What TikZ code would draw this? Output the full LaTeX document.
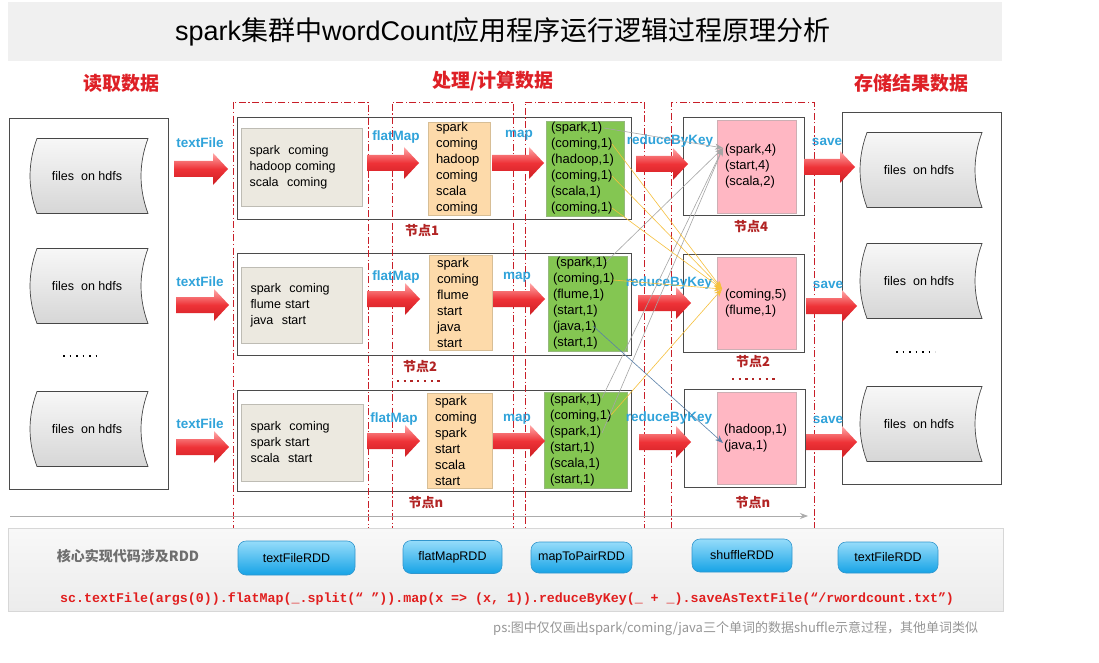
\documentclass[tikz,border=0pt]{standalone}
\usepackage{fontspec}
\setmainfont{Liberation Sans}
\newfontfamily\cjk{Noto Sans CJK SC}
\newfontfamily\codefont{Liberation Mono}
\usetikzlibrary{arrows.meta}
\definecolor{titlegray}{RGB}{240,240,240}
\definecolor{headred}{RGB}{222,32,38}
\definecolor{nodered}{RGB}{178,36,36}
\definecolor{lblue}{RGB}{48,163,218}
\definecolor{boxline}{RGB}{75,75,75}
\definecolor{beige}{RGB}{236,233,224}
\definecolor{beigeline}{RGB}{190,188,180}
\definecolor{peach}{RGB}{253,218,170}
\definecolor{peachline}{RGB}{215,190,150}
\definecolor{leaf}{RGB}{132,198,82}
\definecolor{leafline}{RGB}{150,185,125}
\definecolor{pinkbox}{RGB}{255,183,195}
\definecolor{pinkline}{RGB}{205,175,180}
\definecolor{regred}{RGB}{200,30,40}
\definecolor{arrtop}{RGB}{255,170,170}
\definecolor{arrmid}{RGB}{238,50,55}
\definecolor{arrbot}{RGB}{205,30,35}
\definecolor{shgray}{RGB}{165,165,165}
\definecolor{shyellow}{RGB}{246,192,60}
\definecolor{shblue}{RGB}{90,128,168}
\definecolor{btntop}{RGB}{150,220,250}
\definecolor{btnbot}{RGB}{22,163,230}
\definecolor{btnline}{RGB}{50,150,205}
\definecolor{paneltop}{RGB}{248,248,248}
\definecolor{panelbot}{RGB}{236,236,236}
\definecolor{panelline}{RGB}{215,215,215}
\definecolor{codered}{RGB}{225,30,30}
\definecolor{psgray}{RGB}{150,150,150}
\definecolor{coregray}{RGB}{110,110,110}
\newcommand\hdfs[4]{%
  \path[hdfsshape] ({#2-#4/2+7},{#3-37.5}) -- ({#2+#4/2},{#3-37.5})
    .. controls ({#2+#4/2-9.3},{#3-12.5}) and ({#2+#4/2-9.3},{#3+12.5}) .. ({#2+#4/2},{#3+37.5})
    -- ({#2-#4/2+7},{#3+37.5})
    .. controls ({#2-#4/2-2.3},{#3+12.5}) and ({#2-#4/2-2.3},{#3-12.5}) .. ({#2-#4/2+7},{#3-37.5}) -- cycle;
  \node[hdfstext] (#1) at ({#2-2},#3) {files~~on hdfs};}
\newcommand\redarr[3]{%
  \path[redarrow] (#1,{#3-8}) -- ({#2-15},{#3-8}) -- ({#2-15},{#3-16}) -- (#2,#3)
    -- ({#2-15},{#3+16}) -- ({#2-15},{#3+8}) -- (#1,{#3+8}) -- cycle;}
\begin{document}
\begin{tikzpicture}[x=1pt,y=-1pt,
  every node/.style={inner sep=0pt},
  titlebar/.style={fill=titlegray},
  heading/.style={font=\cjk\bfseries\fontsize{19}{22}\selectfont, text=headred},
  bigbox/.style={draw=boxline, line width=0.8pt, fill=white},
  rowbox/.style={draw=boxline, line width=0.8pt, fill=white},
  region/.style={draw=regred, line width=0.9pt, dash pattern=on 7pt off 2.5pt on 1.2pt off 2.5pt},
  hdfsshape/.style={top color=gray!6, bottom color=gray!32, draw=gray!55!black, line width=0.7pt},
  hdfstext/.style={font=\fontsize{12.5}{15}\selectfont},
  redarrow/.style={top color=arrtop, bottom color=arrbot, middle color=arrmid},
  blab/.style={font=\bfseries\fontsize{13.5}{16}\selectfont, text=lblue},
  txt/.style={font=\fontsize{13}{16}\selectfont, align=left},
  beigebox/.style={txt, fill=beige, draw=beigeline, line width=0.6pt, font=\fontsize{12.5}{16}\selectfont},
  peachbox/.style={txt, fill=peach, draw=peachline, line width=0.6pt},
  leafbox/.style={txt, fill=leaf, draw=leafline, line width=0.6pt},
  pinkbox/.style={txt, fill=pinkbox, draw=pinkline, line width=0.6pt},
  nodelab/.style={font=\cjk\bfseries\fontsize{13}{15}\selectfont, text=nodered},
  reddots/.style={draw=nodered, line width=2pt, dash pattern=on 2.3pt off 4.4pt},
  blackdots/.style={draw=black, line width=1.5pt, dash pattern=on 1.5pt off 5pt},
  shufg/.style={draw=shgray, line width=0.6pt, -{Stealth[length=8pt,width=6pt]}},
  shufy/.style={draw=shyellow, line width=0.6pt, -{Stealth[length=8pt,width=6pt]}},
  shufb/.style={draw=shblue, line width=0.6pt, -{Stealth[length=8pt,width=6pt]}},
  timeline/.style={draw=gray!65, line width=0.8pt, -{Stealth[length=8pt,width=6pt]}},
  panel/.style={top color=paneltop, bottom color=panelbot, draw=panelline, line width=0.6pt},
  btn/.style={rounded corners=8pt, top color=btntop, bottom color=btnbot, draw=btnline, line width=0.6pt, font=\fontsize{12.5}{15}\selectfont},
]
\useasboundingbox (0,0) rectangle (1099,663);
\fill[white] (0,0) rectangle (1099,663);

% title
\node[titlebar, minimum width=994pt, minimum height=59pt] (tbar) at (505,31.5) {};
\node[font=\fontsize{27}{30}\selectfont] (title) at (503,32) {spark{\cjk 集群中}wordCount{\cjk 应用程序运行逻辑过程原理分析}};

% headings
\node[heading] (h1) at (121,83) {读取数据};
\node[heading] (h2) at (493,81) {处理/计算数据};
\node[heading] (h3) at (911,83) {存储结果数据};

% left and right big boxes
\node[bigbox, minimum width=159pt, minimum height=371pt] (leftbox) at (88.5,303.5) {};
\node[bigbox, minimum width=159pt, minimum height=372pt] (rightbox) at (921.5,298) {};
\hdfs{inA}{89}{176}{118}
\hdfs{inB}{89}{286}{118}
\hdfs{inC}{89}{429}{118}
\hdfs{outA}{921}{170}{122}
\hdfs{outB}{921}{281}{122}
\hdfs{outC}{921}{424}{122}
\draw[blackdots] (63,356) coordinate (ldA) -- (102,356) coordinate (ldB);
\draw[blackdots] (896,352) coordinate (rdA) -- (935,352) coordinate (rdB);

% row boxes
\node[rowbox, minimum width=394pt, minimum height=102pt] (row1) at (434,168) {};
\node[rowbox, minimum width=394pt, minimum height=102pt] (row2) at (434,304) {};
\node[rowbox, minimum width=394pt, minimum height=101pt] (row3) at (434,440.5) {};
\node[rowbox, minimum width=121pt, minimum height=98pt] (red1) at (743.5,166) {};
\node[rowbox, minimum width=121pt, minimum height=98pt] (red2) at (743.5,303) {};
\node[rowbox, minimum width=121pt, minimum height=98pt] (red3) at (744.5,438) {};

% regions
\node[region, minimum width=135pt, minimum height=482pt] (regA) at (300.5,343) {};
\node[region, minimum width=121pt, minimum height=482pt] (regB) at (452.5,343) {};
\node[region, minimum width=119pt, minimum height=482pt] (regC) at (584.5,343) {};
\node[region, minimum width=143pt, minimum height=482pt] (regD) at (742.5,343) {};

% beige boxes
\node[beigebox, minimum width=121pt, minimum height=78pt, text width=104pt] (b1) at (301.5,167) {spark~~coming\\hadoop coming\\scala~~coming};
\node[beigebox, minimum width=121pt, minimum height=76pt, text width=102pt] (b2) at (301.5,305) {spark~~coming\\flume start\\java~~start};
\node[beigebox, minimum width=122pt, minimum height=77pt, text width=103pt] (b3) at (302,442.5) {spark~~coming\\spark start\\scala~~start};

% peach boxes
\node[peachbox, minimum width=62pt, minimum height=93pt, text width=46pt] (f1) at (459,168.5) {spark\\coming\\hadoop\\coming\\scala\\coming};
\node[peachbox, minimum width=63pt, minimum height=95pt, text width=47pt] (f2) at (460.5,302.5) {spark\\coming\\flume\\start\\java\\start};
\node[peachbox, minimum width=65pt, minimum height=95pt, text width=49pt] (f3) at (459.5,440.5) {spark\\coming\\spark\\start\\scala\\start};

% green boxes
\node[leafbox, minimum width=78pt, minimum height=95pt, text width=68pt] (m1) at (585,168.5) {(spark,1)\\(coming,1)\\(hadoop,1)\\(coming,1)\\(scala,1)\\(coming,1)};
\node[leafbox, minimum width=79pt, minimum height=95pt, text width=69pt] (m2) at (587.5,303.5) {\hspace*{3pt}(spark,1)\\(coming,1)\\(flume,1)\\(start,1)\\(java,1)\\(start,1)};
\node[leafbox, minimum width=83pt, minimum height=96pt, text width=71pt] (m3) at (585.5,440) {(spark,1)\\(coming,1)\\(spark,1)\\(start,1)\\(scala,1)\\(start,1)};

% pink boxes
\node[pinkbox, minimum width=79pt, minimum height=93pt, text width=63pt] (p1) at (756.5,166.5) {(spark,4)\\(start,4)\\(scala,2)};
\node[pinkbox, minimum width=79pt, minimum height=92pt, text width=63pt] (p2) at (756.5,303) {(coming,5)\\(flume,1)};
\node[pinkbox, minimum width=79pt, minimum height=92pt, text width=65pt] (p3) at (756.5,438) {(hadoop,1)\\(java,1)};

% red arrows
\redarr{174}{228}{169}
\redarr{176}{229}{305}
\redarr{176}{229}{447}
\redarr{367}{419}{163}
\redarr{367}{420}{299}
\redarr{367}{420}{441}
\redarr{492}{544}{163}
\redarr{493}{545}{299}
\redarr{493}{545}{441}
\redarr{636}{688}{164}
\redarr{638}{691}{303}
\redarr{639}{691}{442}
\redarr{804}{855}{167}
\redarr{806}{857}{306}
\redarr{806}{857}{442}

% arrow labels
\node[blab] (l1) at (200,143) {textFile};
\node[blab] (l2) at (200,282) {textFile};
\node[blab] (l3) at (200,424) {textFile};
\node[blab] (l4) at (396,137) {flatMap};
\node[blab] (l5) at (396,277) {flatMap};
\node[blab] (l6) at (394,419) {flatMap};
\node[blab] (l7) at (519,135) {map};
\node[blab] (l8) at (517,277) {map};
\node[blab] (l9) at (517,419) {map};
\node[blab] (l10) at (670,141) {reduceByKey};
\node[blab] (l11) at (669,283) {reduceByKey};
\node[blab] (l12) at (669,418) {reduceByKey};
\node[blab] (l13) at (827,142) {save};
\node[blab] (l14) at (828,285) {save};
\node[blab] (l15) at (828,420) {save};

% node labels
\node[nodelab] (n1) at (422,231) {节点1};
\node[nodelab] (n2) at (420,367) {节点2};
\draw[reddots] (397,381) coordinate (nd1) -- (442,381) coordinate (nd2);
\node[nodelab] (n3) at (426,503) {节点n};
\node[nodelab] (n4) at (751,227) {节点4};
\node[nodelab] (n5) at (753,362) {节点2};
\draw[reddots] (732,379) coordinate (nd3) -- (777,379) coordinate (nd4);
\node[nodelab] (n6) at (753,503) {节点n};

% shuffle lines
\coordinate (gtip) at (723,148);
\coordinate (ytip) at (722,289);
\coordinate (btip) at (723,443);
\coordinate (gs1) at (604,128);
\coordinate (gs2) at (606,262);
\coordinate (gs3) at (602,398);
\coordinate (gs4) at (602,433);
\coordinate (ys1) at (612,144);
\coordinate (ys2) at (612,176);
\coordinate (ys3) at (612,208);
\coordinate (ys4) at (613,280);
\coordinate (ys5) at (611,415);
\coordinate (bs1) at (593,326);
\draw[shufg] (gs1) -- (gtip);
\draw[shufg] (gs2) -- (gtip);
\draw[shufg] (gs3) -- (gtip);
\draw[shufg] (gs4) -- (gtip);
\draw[shufy] (ys1) -- (ytip);
\draw[shufy] (ys2) -- (ytip);
\draw[shufy] (ys3) -- (ytip);
\draw[shufy] (ys4) -- (ytip);
\draw[shufy] (ys5) -- (ytip);
\draw[shufb] (bs1) -- (btip);

% timeline
\coordinate (tl0) at (10,516);
\coordinate (tl1) at (808,516);
\draw[timeline] (tl0) -- (tl1);

% bottom panel
\node[panel, minimum width=995pt, minimum height=83pt] (panel) at (505.5,569.5) {};
\node[font=\cjk\bfseries\fontsize{14}{16}\selectfont, text=coregray] (core) at (128,556) {核心实现代码涉及RDD};
\node[btn, minimum width=117pt, minimum height=34pt] (r1) at (296.5,558) {textFileRDD};
\node[btn, minimum width=99pt, minimum height=33pt] (r2) at (452.5,557) {flatMapRDD};
\node[btn, minimum width=101pt, minimum height=31pt] (r3) at (581.5,557.5) {mapToPairRDD};
\node[btn, minimum width=100pt, minimum height=33pt] (r4) at (742,555.5) {shuffleRDD};
\node[btn, minimum width=100pt, minimum height=31pt] (r5) at (888,557.5) {textFileRDD};
\node[anchor=west, font=\codefont\bfseries\fontsize{13.3}{15}\selectfont, text=codered] (code) at (60,599) {sc.textFile(args(0)).flatMap(\_.split(“ ”)).map(x => (x, 1)).reduceByKey(\_ + \_).saveAsTextFile(“/rwordcount.txt”)};
\node[anchor=west, font=\cjk\fontsize{13}{15}\selectfont, text=psgray] (ps) at (493,629) {ps:图中仅仅画出spark/coming/java三个单词的数据shuffle示意过程，其他单词类似};
\end{tikzpicture}
\end{document}
